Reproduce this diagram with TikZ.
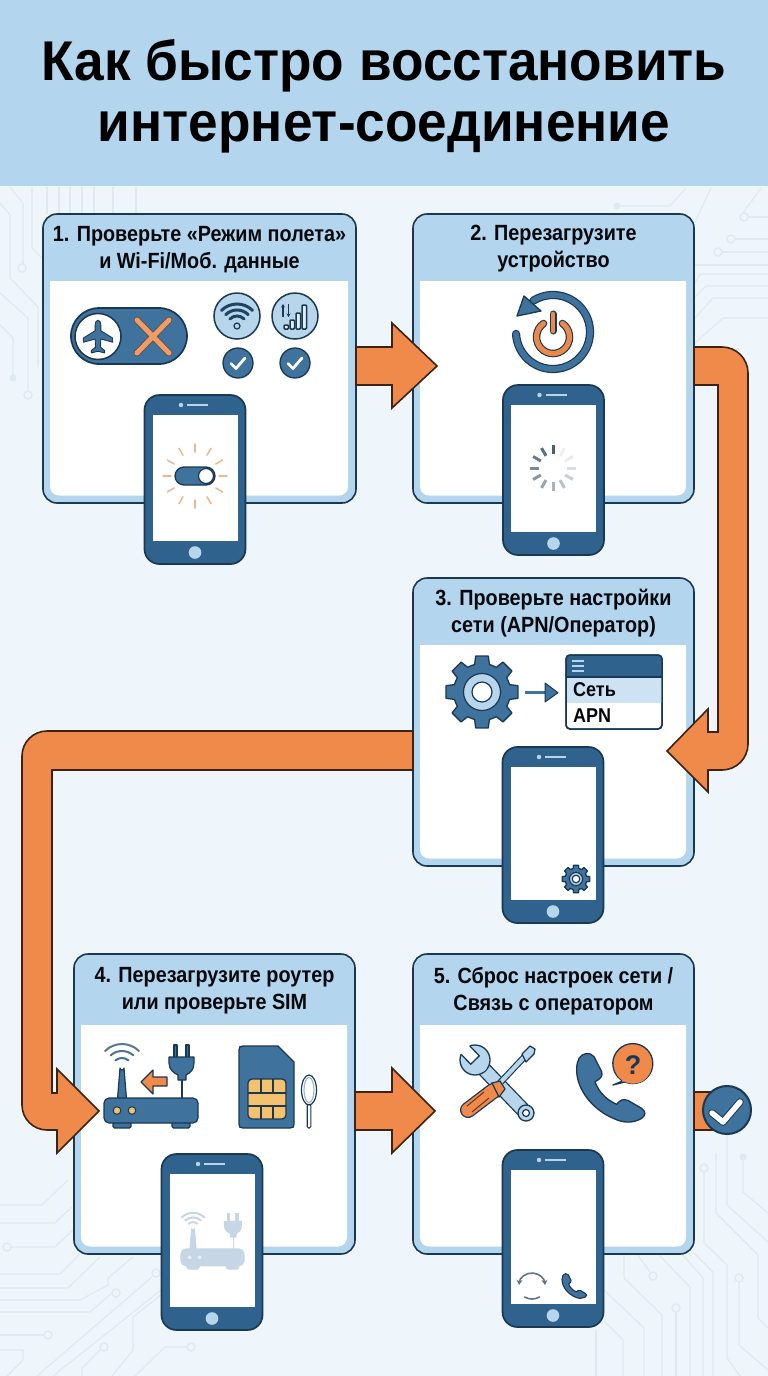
\documentclass[tikz,border=0pt]{standalone}
\usepackage{fontspec}
\usetikzlibrary{arrows.meta,calc}
\setmainfont{Liberation Sans}
\newcommand{\hl}[1]{\scalebox{0.95}[1]{#1}}
\newcommand{\cl}[1]{\scalebox{0.90}[1]{#1}}
\definecolor{bgc}{HTML}{EEF6FC}
\definecolor{hdrc}{HTML}{B3D5ED}
\definecolor{darkc}{HTML}{1A3853}
\definecolor{bluec}{HTML}{2F628C}
\definecolor{iconc}{HTML}{3F729C}
\definecolor{orangec}{HTML}{EF8A4B}
\definecolor{lightc}{HTML}{B7D6EC}
\definecolor{tracec}{HTML}{DFE9F0}
\definecolor{ghostc}{HTML}{C6D6E4}
\definecolor{goldc}{HTML}{F4C26C}
\definecolor{rayc}{HTML}{EDB78E}
\tikzset{
  trace/.style={draw=tracec,line width=1.1pt,line join=round},
  tring/.style={draw=tracec,line width=1.4pt,fill=bgc},
  tdot/.style={fill=tracec},
  cardbox/.style={draw=darkc,line width=1.6pt,fill=hdrc,rounded corners=14pt,inner sep=0pt,outer sep=0pt},
  cardtitle/.style={text=black!85!darkc,align=center,inner sep=0pt},
  phonebox/.style={draw=darkc,line width=1.7pt,fill=bluec,rounded corners=15pt,inner sep=0pt,outer sep=0pt},
  bigarrow/.style={fill=orangec,draw=black!75!orangec,line width=1.6pt,line join=miter},
  iconfill/.style={fill=iconc,draw=darkc,line width=1.3pt,line join=round},
}
% name x1 y1 x2 y2 whitetop
\newcommand{\cardbody}[6]{%
  \node[cardbox,minimum width={(#4-#2)*1pt},minimum height={(#5-#3)*1pt}] (#1) at ({(#2+#4)/2},{(#3+#5)/2}) {};
  \fill[white] ({#2+7},#6) -- ({#4-8},#6) [rounded corners=9pt] -- ({#4-8},{#5-7.5}) -- ({#2+7},{#5-7.5}) [sharp corners] -- cycle;
}
% name cx top bottom
\newcommand{\phonedraw}[4]{%
  \node[phonebox,minimum width=101pt,minimum height={(#4-#3)*1pt}] (#1) at (#2,{(#3+#4)/2}) {};
  \fill[white] ({#2-42.5},{#3+19.5}) rectangle ({#2+42.5},{#4-23});
  \fill[lightc] ({#2-14},{#3+10}) circle (2.2);
  \draw[lightc,line width=2.2pt] ({#2-8},{#3+10}) -- ({#2+13},{#3+10});
  \fill[lightc] (#2,{#4-11.5}) circle (6.3);
}
% cx cy R ringR holeR
\newcommand{\gearicon}[5]{%
  \begin{scope}[shift={(#1,#2)}]
    \pgfmathsetmacro{\rrt}{#3*0.78}
    \draw[iconfill] (-15:\rrt) foreach \a in {0,45,...,315} { -- ({\a-15}:\rrt) -- ({\a-10}:#3) -- ({\a+10}:#3) -- ({\a+15}:\rrt) arc[start angle={\a+15},end angle={\a+30},radius=\rrt] } -- cycle;
    \draw[darkc,fill=lightc,line width=1.2pt] (0,0) circle (#4);
    \draw[darkc,fill=white,line width=1.2pt] (0,0) circle (#5);
  \end{scope}
}
% fill, line, led, arc1, arc2, arc3 (in the coordinates of the big router)
\newcommand{\routerart}[6]{%
  \draw[fill=#1,draw=#2,line width=1.2pt,rounded corners=1.5pt] (113,1122) rectangle (131,1128);
  \draw[fill=#1,draw=#2,line width=1.2pt,rounded corners=1.5pt] (172,1122) rectangle (190,1128);
  \draw[fill=#1,draw=#2,line width=1.2pt,line join=round] (117.5,1099) -- (120,1068) arc[start angle=180,end angle=0,radius=2] -- (126.5,1099) -- cycle;
  \draw[fill=#1,draw=#2,line width=1.2pt,rounded corners=5pt] (104,1098) rectangle (198,1123);
  \draw[fill=#3,draw=#2,line width=1pt] (117,1110.5) circle (3.8);
  \draw[fill=#3,draw=#2,line width=1pt] (132,1110.5) circle (3.8);
  \draw[#4,line width=2pt,line cap=round] (122,1068) ++(-135:24) arc[start angle=-135,end angle=-45,radius=24];
  \draw[#5,line width=2pt,line cap=round] (122,1068) ++(-132:17) arc[start angle=-132,end angle=-48,radius=17];
  \draw[#6,line width=2pt,line cap=round] (122,1068) ++(-130:10) arc[start angle=-130,end angle=-50,radius=10];
  \draw[#2,line width=1.1pt] (182,1098) -- (182,1080);
  \draw[fill=#1,draw=#2,line width=1.2pt,line join=round] (174,1045) rectangle (177,1058);
  \draw[fill=#1,draw=#2,line width=1.2pt,line join=round] (186,1045) rectangle (189,1058);
  \draw[fill=#1,draw=#2,line width=1.2pt,line join=round] (169,1057) -- (194,1057) -- (194,1063) .. controls (194,1070) and (190,1073) .. (186,1075) -- (186,1080) -- (178,1080) -- (178,1075) .. controls (174,1073) and (169,1070) .. (169,1063) -- cycle;
}
\newcommand{\handset}{%
  (537,325) .. controls (548,308) and (570,305) .. (582,320)
  -- (605,365) .. controls (610,378) and (600,388) .. (585,395)
  .. controls (595,425) and (620,450) .. (650,463)
  .. controls (660,450) and (670,445) .. (685,452)
  -- (725,475) .. controls (738,485) and (738,495) .. (725,505)
  .. controls (700,520) and (670,520) .. (640,505)
  .. controls (580,480) and (530,420) .. (530,360)
  .. controls (530,345) and (532,335) .. (537,325) -- cycle
}
\begin{document}
\begin{tikzpicture}[x=1pt,y=1pt,yscale=-1]
\path[use as bounding box] (0,0) rectangle (768,1376);
\fill[bgc] (0,0) rectangle (768,1376);
% ---------- circuit traces
\draw[trace] (0,1205) -- (42,1205) -- (68,1180);
\draw[trace] (0,1223) -- (55,1223) -- (72,1207);
\draw[trace] (11,1247) -- (55,1247) -- (73,1230);
\draw[tring] (7,1247) circle (4);
\draw[trace] (0,1274) -- (60,1274) -- (80,1254);
\draw[trace] (0,1288) -- (68,1288) -- (100,1257);
\draw[trace] (0,1300) -- (80,1300) -- (108,1285) -- (108,1278) -- (133,1257);
\draw[trace] (0,1312) -- (90,1312) -- (112,1293);
\draw[tring] (116,1293) circle (4);
\draw[trace] (0,1335) -- (44,1335);
\draw[tring] (48,1335) circle (4);
\draw[trace] (0,1350) -- (23,1350) -- (23,1360) -- (7,1376);
\draw[trace] (152,1277) -- (37,1376);
\draw[tring] (156,1273) circle (4);
\draw[trace] (161,1290) -- (53,1376);
\draw[trace] (163,1293) -- (133,1317) -- (133,1350) -- (112,1376);
\draw[trace] (100,1350) -- (82,1368) -- (82,1376);
\draw[tring] (104,1347) circle (4);
\draw[trace] (186,1347) -- (165,1347) -- (135,1376);
\draw[tring] (191,1347) circle (4);
\draw[trace] (624,1254) -- (624,1278) -- (662,1315) -- (662,1376);
\draw[trace] (637,1254) -- (650,1272);
\draw[tring] (653,1276) circle (4);
\draw[trace] (658,1254) -- (690,1287) -- (690,1376);
\draw[trace] (682,1254) -- (703,1278) -- (703,1376);
\draw[trace] (693,1252) -- (713,1272) -- (713,1376);
\draw[trace] (676,1312) -- (676,1376);
\draw[tring] (676,1308) circle (4);
\draw[trace] (604,1290) -- (644,1328) -- (644,1376);
\draw[trace] (604,1321) -- (623,1340) -- (623,1376);
\draw[trace] (596,1330) -- (596,1376);
\draw[trace] (704,1172) -- (704,1243) -- (727,1265) -- (727,1358) -- (740,1376);
\draw[tring] (704,1168) circle (4);
\draw[trace] (716,1153) -- (716,1213) -- (758,1255) -- (758,1318) -- (768,1328);
\draw[trace] (727,1134) -- (727,1205) -- (768,1242);
\draw[trace] (743,1157) -- (743,1192) -- (768,1213);
\fill[tdot] (743,1157) circle (3.5);
\draw[trace] (739,1283) -- (739,1345) -- (768,1370);
\draw[tring] (739,1278) circle (4);
\draw[trace] (10,187) -- (23,203) -- (23,264);
\draw[tring] (22,268) circle (4);
\draw[trace] (0,203) -- (10,215) -- (10,278) -- (38,307) -- (38,367);
\draw[trace] (0,293) -- (28,318) -- (28,391);
\draw[tring] (28,395) circle (4);
\draw[trace] (0,325) -- (13,338) -- (13,375);
\fill[tdot] (13,378) circle (3.5);
\draw[trace] (32,187) -- (32,248) -- (42,258);
\foreach \x in {47,59,70,82,94,113,136} \draw[trace] (\x,187) -- (\x,214);
\draw[trace] (621,206) -- (670,206) -- (686,188);
\fill[tdot] (617,206) circle (3.5);
\draw[trace] (695,222) -- (711,188);
\draw[trace] (743,213) -- (761,188);
\draw[trace] (748,217) -- (768,217);
\draw[tring] (744,217) circle (4);
\draw[trace] (735,239) -- (768,239);
\draw[tring] (731,239) circle (4);
\draw[trace] (722,252) -- (768,252);
\draw[tring] (718,252) circle (4);
\draw[trace] (695,265) -- (768,265);
\draw[trace] (695,283) -- (700,274) -- (768,274);
\draw[trace] (695,297) -- (706,286) -- (768,286);
\draw[trace] (695,318) -- (713,298) -- (768,298);
\draw[trace] (695,343) -- (723,318) -- (768,318);
% ---------- header
\fill[hdrc] (0,0) rectangle (768,186);
\node[anchor=center,inner sep=0pt,align=center,text=black,font={\bfseries\fontsize{56}{61}\selectfont}] (title) at (384,96)
  {\hl{Как быстро восстановить}\\\hl{интернет-соединение}};
% ---------- cards
\cardbody{card1}{43}{214}{356}{503}{281}
\cardbody{card2}{413}{214}{694}{503}{281}
\cardbody{card3}{413}{578}{694}{866}{645}
\cardbody{card4}{74}{954}{355}{1254}{1025}
\cardbody{card5}{413}{954}{694}{1254}{1025}
\tikzset{cardfontset/.style={font={\bfseries\fontsize{22}{27}\selectfont}}}
\node[cardtitle,cardfontset] (t1) at (199.5,250) {\cl{1. Проверьте «Режим полета»}\\\cl{и Wi-Fi/Моб. данные}};
\node[cardtitle,cardfontset] (t2) at (553.5,249) {\cl{2. Перезагрузите}\\\cl{устройство}};
\node[cardtitle,cardfontset] (t3) at (553.5,613) {\cl{3. Проверьте настройки}\\\cl{сети (APN/Оператор)}};
\node[cardtitle,cardfontset] (t4) at (214.5,991) {\cl{4. Перезагрузите роутер}\\\cl{или проверьте SIM}};
\node[cardtitle,cardfontset] (t5) at (553.5,991) {\cl{5. Сброс настроек сети /}\\\cl{Связь с оператором}};
% ---------- big arrows
\draw[bigarrow] (card1.east |- 0,347) -- (392,347) -- (392,323) -- (437,366) -- (392,408) -- (392,385) -- (card1.east |- 0,385) -- cycle;
\draw[bigarrow] (card2.east |- 0,347) -- (722,347) arc[start angle=-90,end angle=0,radius=26] -- (748,744) arc[start angle=0,end angle=90,radius=26] -- (708,770) -- (708,792) -- (667,751) -- (708,709) -- (708,732) -- (718,732) -- (718,385) -- (card2.east |- 0,385) -- cycle;
\draw[bigarrow] (card3.west |- 0,731) -- (47,731) arc[start angle=-90,end angle=-180,radius=25] -- (22,1105) arc[start angle=180,end angle=90,radius=25] -- (57,1130) -- (57,1153) -- (99,1111) -- (57,1069) -- (57,1093) -- (52,1093) -- (52,770) -- (card3.west |- 0,770) -- cycle;
\draw[bigarrow] (card4.east |- 0,1092) -- (392,1092) -- (392,1068) -- (435,1111) -- (392,1153) -- (392,1130) -- (card4.east |- 0,1130) -- cycle;
\draw[bigarrow] (card5.east |- 0,1092) -- (712,1092) -- (712,1130) -- (card5.east |- 0,1130) -- cycle;
% final check
\node[circle,fill=iconc,draw=darkc,line width=2pt,minimum size=48pt,inner sep=0pt] (done) at (727,1110) {};
\draw[darkc,line width=7.5pt,line cap=round,line join=round] (712,1113) -- (723,1122) -- (740,1102);
\draw[white,line width=5.5pt,line cap=round,line join=round] (712,1113) -- (723,1122) -- (740,1102);
% ---------- phones
\phonedraw{phone1}{195}{395}{564}
\phonedraw{phone2}{553.5}{385}{555}
\phonedraw{phone3}{553}{747}{923}
\phonedraw{phone4}{212}{1154}{1330}
\phonedraw{phone5}{553}{1150}{1327}
% ---------- card 1 icons
\draw[iconfill,line width=1.7pt] (99,308) -- (159,308) arc[start angle=-90,end angle=90,radius=28] -- (99,364) arc[start angle=90,end angle=270,radius=28] -- cycle;
\draw[darkc,fill=white,line width=1.5pt] (98,336.5) circle (23);
\begin{scope}[shift={(98,336.5)},scale=.82,shift={(-98,-336)}]
\draw[iconfill,line width=.9pt] (98,316) .. controls (100,316) and (101.5,319) .. (101.5,323) -- (101.5,329) -- (116,338) -- (116,343) -- (101.5,339) -- (101,349) -- (106,353) -- (106,356) -- (98,354) -- (90,356) -- (90,353) -- (95,349) -- (94.5,339) -- (80,343) -- (80,338) -- (94.5,329) -- (94.5,323) .. controls (94.5,319) and (96,316) .. (98,316) -- cycle;
\end{scope}
\draw[darkc!70!orangec,line width=6.8pt,line cap=round] (137,320) -- (169,353) (169,320) -- (137,353);
\draw[orangec!85!white,line width=5pt,line cap=round] (137,320) -- (169,353) (169,320) -- (137,353);
\draw[darkc,fill=lightc,line width=1.5pt] (237,316) circle (23);
\draw[darkc,fill=lightc,line width=1.5pt] (295,316) circle (23);
\draw[darkc,line width=1.2pt,fill=lightc] (237,326) circle (3);
\foreach \r/\lw in {10/3,16/3,22/3}
  \draw[darkc!70!bluec,line width=\lw pt,line cap=round] (237,326) ++(-135:\r) arc[start angle=-135,end angle=-45,radius=\r];
\draw[darkc,line width=1.4pt,-{Stealth[length=3.5pt,width=4pt]}] (283,317) -- (283,304);
\draw[darkc,line width=1.4pt,-{Stealth[length=3.5pt,width=4pt]}] (288.5,304) -- (288.5,317);
\foreach \x/\h in {284/4,290/9,296/16,302/24}
  \draw[darkc,fill=lightc!40!white,line width=1.5pt,rounded corners=1pt] (\x,329) rectangle ({\x+4.5},{329-\h});
\foreach \x in {238,295} {
  \draw[iconfill] (\x,363) circle (15);
  \draw[white,line width=2.8pt,line cap=round,line join=round] ({\x-7},363.5) -- ({\x-2},368.5) -- ({\x+7},358);
}
% phone 1 screen
\foreach \a in {0,30,...,330}
  \draw[rayc,line width=1.5pt,line cap=round] (195,476) ++(\a:24) -- ++(\a:8);
\draw[iconfill] (184,467) -- (206,467) arc[start angle=-90,end angle=90,radius=9] -- (184,485) arc[start angle=90,end angle=270,radius=9] -- cycle;
\draw[darkc,fill=white,line width=1.2pt] (206,476) circle (7.5);
% ---------- card 2 icons
\draw[darkc,line width=8.2pt,line cap=round] (553,332) ++(177:37) arc[start angle=177,end angle=-122,radius=37];
\draw[iconc,line width=5.8pt,line cap=round] (553,332) ++(177:37) arc[start angle=177,end angle=-122,radius=37];
\draw[iconfill] (517,316) -- (524,296) -- (541,311) -- cycle;
\draw[darkc,line width=7.5pt,line cap=round] (553,337) ++(-55:16.5) arc[start angle=-55,end angle=235,radius=16.5];
\draw[orangec!90!brown,line width=5.2pt,line cap=round] (553,337) ++(-55:16.5) arc[start angle=-55,end angle=235,radius=16.5];
\draw[darkc,line width=7pt,line cap=round] (553,314) -- (553,331);
\draw[orangec!90!brown,line width=4.6pt,line cap=round] (553,314) -- (553,331);
\foreach \i in {0,...,11} {
  \pgfmathsetmacro{\ang}{-90-30*\i}
  \pgfmathsetmacro{\mixv}{max(8,80-\i*7)}
  \draw[darkc!\mixv!white,line width=3pt] (553,468) ++(\ang:14) -- ++(\ang:9);
}
% ---------- card 3 icons
\gearicon{482}{692}{36.5}{18.5}{10}
\draw[iconc,line width=3pt] (525,692.7) -- (548,692.7);
\draw[iconfill,line width=1pt] (545,683) -- (558,692.7) -- (545,702) -- cycle;
\node[draw=darkc,line width=1.5pt,fill=white,rounded corners=4pt,minimum width=96pt,minimum height=74pt,inner sep=0pt] (menu) at (614,692) {};
\begin{scope}
  \clip[rounded corners=4pt] (566,655) rectangle (662,729);
  \fill[bluec] (566,655) rectangle (662,677);
  \fill[lightc!70!white] (566,677) rectangle (662,703);
\end{scope}
\draw[darkc,line width=1.5pt,rounded corners=4pt] (566,655) rectangle (662,729);
\draw[darkc,line width=1.2pt] (566,677) -- (662,677);
\foreach \y in {661,666,671} \draw[lightc,line width=1.4pt] (572,\y) -- (584,\y);
\node[anchor=west,inner sep=0pt,font={\bfseries\fontsize{20}{22}\selectfont},text=black!85!darkc] (rowa) at (573,690) {\cl{Сеть}};
\node[anchor=west,inner sep=0pt,font={\bfseries\fontsize{20}{22}\selectfont},text=black!85!darkc] (rowb) at (573,716) {\cl{APN}};
\gearicon{576}{879}{14}{6.6}{3.8}
% ---------- card 4 icons
\routerart{iconc}{darkc}{goldc}{iconc!60!gray}{iconc!75!gray}{iconc}
\draw[darkc,fill=orangec,line width=1.2pt,line join=round] (141,1082) -- (153,1070) -- (153,1077) -- (167,1077) -- (167,1086) -- (153,1086) -- (153,1094) -- cycle;
\draw[iconfill] (243,1046) -- (278,1046) -- (294,1062) -- (294,1124) .. controls (294,1127) and (293,1128) .. (290,1128) -- (243,1128) .. controls (240,1128) and (239,1127) .. (239,1124) -- (239,1050) .. controls (239,1047) and (240,1046) .. (243,1046) -- cycle;
\draw[darkc,fill=goldc,line width=1.3pt,rounded corners=4pt] (248,1079) rectangle (286,1119);
\draw[darkc,line width=1.2pt] (261,1079) -- (261,1093) -- (286,1093) (273,1079) -- (273,1093) (248,1106) -- (286,1106) (261,1106) -- (261,1119) (273,1106) -- (273,1119) (248,1093) -- (261,1093);
\draw[darkc,fill=white,line width=1.2pt] (309,1090) ellipse (7.5 and 15);
\draw[iconc!50!white,line width=1.2pt] (309,1090) ellipse (5 and 12.5);
\draw[darkc,fill=white,line width=1.1pt,rounded corners=1.5pt] (307.2,1104.5) rectangle (310.8,1128);
% phone 4 ghost
\begin{scope}[shift={(111.3,513.3)},scale=.67]
  \routerart{ghostc}{ghostc}{ghostc!40!white}{ghostc}{ghostc}{ghostc}
\end{scope}
% ---------- card 5 icons: wrench
\draw[darkc,line width=15pt,line cap=round] (526,1113) -- (479,1064);
\draw[lightc,line width=12.4pt,line cap=round] (526,1113) -- (479,1064);
\draw[darkc,fill=lightc,line width=1.3pt] (475,1060) circle (15);
\fill[lightc] (481,1066) circle (6);
\begin{scope}[shift={(475,1060)},rotate=226]
  \fill[white] (13.7,-6) -- (0,-6) -- (0,6) -- (13.7,6) -- (17,6) -- (17,-6) -- cycle;
  \draw[darkc,line width=1.3pt] (13.7,-6) -- (0,-6) -- (0,6) -- (13.7,6);
\end{scope}
\draw[darkc,fill=lightc,line width=1.3pt] (526,1113) circle (8);
\draw[darkc,fill=white,line width=1.2pt] (526,1113) circle (3.5);
% screwdriver
\draw[darkc,line width=6.5pt] (528,1053) -- (498,1085);
\draw[lightc,line width=4.2pt] (528,1053) -- (498,1085);
\draw[iconfill,fill=lightc] (522,1054) -- (530,1046) -- (535,1049) -- (534,1054) -- (526,1062) -- cycle;
\draw[darkc,line width=16pt,line cap=round] (493,1091) -- (468,1110);
\draw[orangec,line width=13.4pt,line cap=round] (493,1091) -- (468,1110);
\draw[darkc,fill=orangec,line width=1.2pt] (492,1083) -- (500,1081) -- (505,1089) -- (499,1097) -- cycle;
\draw[black!60!orangec,line width=1pt] (489,1098) -- (472,1112) (484,1092) -- (467,1106);
% telephone
\begin{scope}[shift={(400,950)},scale=.3333]
  \draw[iconfill,line width=1.3pt] \handset;
\end{scope}
\draw[darkc,fill=orangec,line width=1.3pt,line join=round] (633,1065) ++(125:20) -- (613,1085) -- (625,1082) arc[start angle=113,end angle=-235,radius=20] -- cycle;
\fill[orangec] (633,1065) circle (18.7);
\node[inner sep=0pt,font={\bfseries\fontsize{27}{27}\selectfont},text=darkc] (ask) at (633,1065) {?};
% phone 5 screen
\draw[darkc!70!white,line width=1.6pt,{Stealth[length=5pt,width=6pt]}-{Stealth[length=5pt,width=6pt]}] (532,1286) ++(185:13) arc[start angle=185,end angle=355,radius=13];
\draw[darkc!70!white,line width=1.6pt,line cap=round] (532,1284) ++(60:15) arc[start angle=60,end angle=120,radius=15];
\begin{scope}[shift={(498.4,1236.4)},scale=.12]
  \draw[iconfill,line width=1.1pt] \handset;
\end{scope}
\end{tikzpicture}
\end{document}
